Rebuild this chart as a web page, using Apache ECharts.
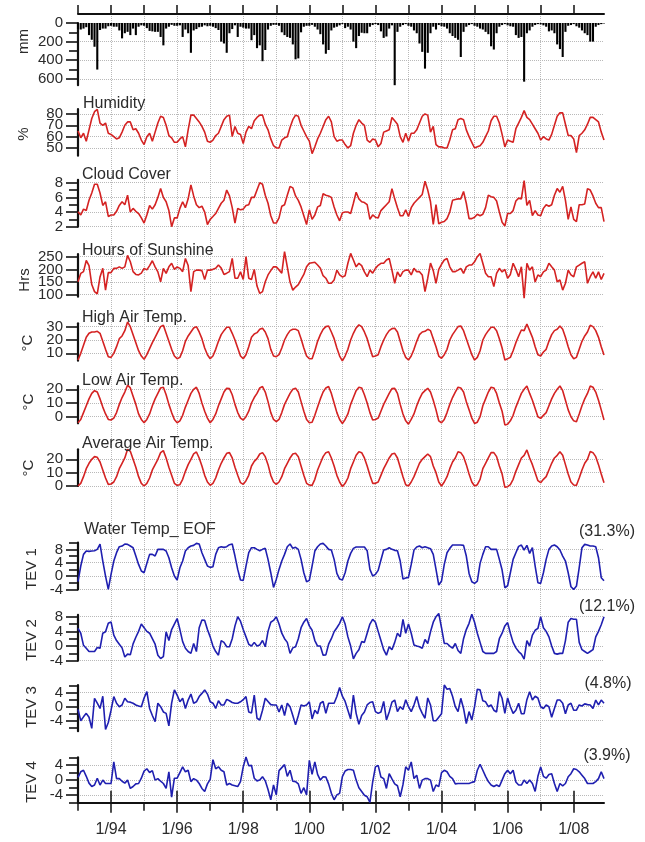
<!DOCTYPE html>
<html><head><meta charset="utf-8">
<script src="https://cdn.jsdelivr.net/npm/echarts@6/dist/echarts.min.js"></script>
<style>html,body{margin:0;padding:0;background:#fff}#c{width:645px;height:842px}</style>
</head><body><div id="c"></div>
<script>
// ---------- DATA (monthly, Jan 1993 .. Dec 2008) ----------
const startYear = 1993;
const tickLabels = ['1/94','1/96','1/98','1/00','1/02','1/04','1/06','1/08'];
const labelYears = [1994,1996,1998,2000,2002,2004,2006,2008];
const tevShare = ['(31.3%)','(12.1%)','(4.8%)','(3.9%)'];

const precip = [
65,70,60,45,130,180,255,500,75,60,60,35,
30,40,40,80,165,110,95,130,60,130,40,25,
30,55,85,90,95,95,150,240,60,40,20,30,
30,25,150,70,110,320,80,65,45,40,25,35,
30,40,55,75,200,220,320,110,65,25,150,40,
50,60,60,185,130,270,240,410,290,70,30,20,
20,30,100,130,150,160,230,390,380,100,40,30,
30,20,40,70,120,230,330,290,80,50,40,25,
12,55,40,70,200,270,140,105,110,110,40,22,
12,22,90,160,145,60,25,680,95,40,22,12,
30,40,80,110,220,310,490,320,110,40,70,22,
35,40,60,110,140,160,180,365,95,40,22,12,
30,40,60,70,95,120,250,285,110,40,22,12,
25,35,40,130,160,150,630,110,80,40,22,12,
15,25,40,90,80,110,230,280,365,95,30,22,
12,35,50,80,110,130,200,200,40,22,12,5];

const humidity = [
65,59,63,56,66,76,82,84,72,70,72,63,
62,60,58,59,64,70,73,73,66,67,63,57,
53,60,63,56,64,72,78,77,70,61,59,55,
55,58,60,51,66,79,79,76,73,69,64,56,
55,57,61,63,69,75,78,79,60,69,63,62,
54,64,69,67,74,77,79,79,71,66,58,52,
50,50,57,59,60,68,75,79,78,70,65,60,
56,45,51,58,63,69,75,78,73,60,56,57,
57,53,50,52,63,70,75,72,70,57,55,58,
57,51,54,64,65,66,77,74,71,60,55,63,
56,63,63,66,72,78,80,79,64,69,53,51,
51,50,50,57,66,67,75,76,75,66,60,55,
50,51,52,55,60,65,74,78,78,72,62,51,
57,56,55,67,72,77,83,77,75,71,67,63,
57,60,58,57,62,70,78,81,81,71,61,61,
58,46,61,63,66,71,77,77,75,73,64,57];

const cloud = [
4.05,3.6,4.4,4.2,5.6,6.6,7.8,7.8,6.6,4.9,5.4,3.4,
3.6,3.6,4.1,4.9,5.4,5.0,6.3,4.0,4.5,4.1,3.8,3.2,
2.5,3.6,4.9,4.4,5.0,6.0,7.2,6.0,5.4,4.2,2.0,3.2,
3.2,4.5,5.4,4.6,5.8,7.7,6.2,5.0,4.6,4.8,4.0,2.3,
3.0,3.4,3.8,4.5,5.2,5.6,7.0,6.2,4.6,2.5,4.5,4.3,
4.4,4.9,5.0,6.0,6.0,7.0,8.0,7.8,6.3,5.2,3.5,2.5,
2.5,3.2,4.8,5.0,6.3,7.5,7.3,6.2,5.6,4.7,3.5,2.3,
4.3,3.0,3.6,4.7,4.9,6.5,6.3,6.2,6.0,4.7,3.6,2.8,
3.9,4.0,4.0,3.8,5.2,6.7,5.8,5.4,5.3,5.0,3.0,3.6,
3.3,3.2,4.2,4.6,5.0,5.4,7.2,5.8,4.6,3.5,3.5,4.3,
3.4,4.6,5.2,5.6,6.0,6.4,8.2,7.0,5.4,2.3,5.0,2.4,
2.6,2.7,3.1,4.0,5.6,5.7,5.8,5.8,6.8,5.2,3.1,3.1,
3.3,3.7,3.5,3.7,4.6,6.3,6.1,6.0,5.5,4.0,2.6,2.1,
3.8,3.8,4.2,5.5,5.9,5.8,8.3,4.9,5.6,3.5,4.2,3.6,
3.5,4.5,5.0,4.8,5.0,6.3,7.2,6.7,7.5,5.6,3.0,4.7,
3.0,2.7,5.0,5.0,5.1,7.2,7.0,6.2,5.2,4.6,4.6,2.7];

const sunshine = [
151,184,191,235,215,140,112,103,170,204,118,187,
187,204,204,210,204,210,255,230,191,180,178,185,
204,198,215,234,210,190,151,204,184,210,224,200,
210,204,191,243,215,112,191,197,197,195,160,197,
197,200,204,217,205,180,185,191,243,165,165,190,
160,250,165,160,200,134,105,112,151,178,195,210,
210,198,185,270,210,150,118,130,140,160,180,210,
224,226,228,217,204,175,165,145,145,158,197,178,
170,175,224,263,237,210,224,215,190,171,197,185,
204,216,224,224,237,243,197,145,190,171,191,197,
197,178,204,191,191,178,112,165,225,195,145,200,
220,237,243,210,191,191,197,204,184,210,217,217,
230,250,263,224,185,171,171,132,184,204,190,200,
165,180,224,200,171,210,86,224,197,210,150,178,
171,190,197,224,210,197,151,158,118,145,197,178,
171,210,217,224,230,145,171,190,165,190,160,184];

const highTemp = [
5,10,16,22,25,26,26,26.5,25,19,13,7.5,
7,10,15,21,23,27,33.5,30,24,18,12,8,
5.5,9,13.5,18,22,26,30,31,25,19,13,8,
6,7,12,19,23,26,29,30,26,21,14,9,
6,8,13,19,24,27,29.5,29.5,25,20,14,8,
6,9,15,22,24.5,25.5,28,28.8,26,21,13,8,
7.5,9,14,20,24,27,28,28,27,21,14,8,
6,6,12,19,24,28,30,30.5,26,21,14,8,
4.3,8,13,20,25,29,31.3,30,26,21,14,7.5,
8,9,15,20,24,27,28.5,28.8,26,19,12,7,
5,8,13,19,24,26,26.5,28,27,21,15,8,
6.3,9,13,20,24,27,30,30.5,27,21,15,9,
5,7,12,20,24,27,29.5,29.5,27,21,14,5,
6,7,12,18,23,27.5,27,32,27,22,15,9,
8,11,13,19,24,27,28,30.5,28,22,15,9,
6,7,13,19,23,26,31,30,27,22,15,8.8];

const lowTemp = [
-4.4,-2,3,8,13,17,19,18,13,7,2,-2,
-2.4,-1,3,9,14,18,23,21,15,9,2,-2,
-4.4,-2,2,8,13,17,21,21.5,16,9,3,-2,
-4.4,-3,1,7,12,17,20,21.5,17,10,4,-1,
-4.4,-2,2,8,13,18,20.7,20.5,16,9,3,-1,
-2.4,0,4,10,14,17,21,22,18,11,3,-2,
-3.6,-2,3,9,13,17,20,20.7,18,11,4,-2,
-4.4,-4,1,7,13,18,21,22,17,10,3,-2,
-4.9,-2,2,9,14,19,21.5,21,16,10,3,-2.4,
-2,-1,4,9,13,17,20.5,20.7,17,9,2,-3,
-5.4,-2,2,8,13,17,19,20.7,18,12,5,-3,
-4.4,-2,3,9,14,18,21.5,21,18,11,5,-1,
-4.9,-4,0,8,13,18,21.5,21,17,10,4,-6,
-5.5,-3,1,7,12,17,20,22.4,17,12,6,0,
-1.2,1,3,8,13,17,20,22.4,19,12,5,0,
-3,-3.6,2,8,13,17,22.4,21.5,18,12,5,-2.4];

const avgTemp = [
0,2,7,13,17,20,22,21.5,18,12,6,1.2,
1.5,3,7,13,17,21,27.5,26,20,14,7,2,
0,2,6,12,16,20,25,26.5,21,14,8,2,
0.5,1,5,11,16,20,24,25.5,21,15,8,3,
0.5,2,6,12,17,21,24.5,25,21,14,8,2.5,
1.2,4,8,15,18.5,20.5,24,25,22,16,8,3,
1.2,3,7,13,17,21,24,24.5,22,15,8,2,
0.7,0.5,5,12,17,22,25,25.7,21,15,8,3,
-0.5,2,6,13,18,23,25.7,25,21,15,8,2,
2,3,8,13,17,21,24,24.5,21,14,7,1,
0,3,7,12,17,20,22,24,22,15,10,3,
0,3,7,13,18,21,25.7,25,22,16,9,3,
0,1,5,13,17,21,25,25,22,15,9,-1,
-0.5,1,5,11,16,21,23,27,21,16,10,4,
2.5,5,7,12,17,21,23,25.7,23,16,9,3,
0.7,0.5,6,12,17,20,25.8,25,22,16,9,2.5];

const tev1 = [
-1.7,3,6.5,7.5,7.4,7.5,7.6,8.0,9.6,4.5,0,-4,
0.5,4.5,7,8.8,9,9.6,9.5,9,8.5,6,3.5,1.5,
1,3.8,6.5,6.5,6,8,8,8,7.5,5.5,2.5,0,
-1.2,2.5,4.5,7.5,8.5,9,9.2,9.8,9.6,7,5,3,
2.6,2.8,6.5,8.5,8.8,8.6,8.8,9.4,9.6,6,2,-1.2,
-1.3,3,7,8.5,8.5,8,7.6,8,8.3,5,1,-3.4,
-1,2,4.5,6.5,8.8,9.6,8.3,8.6,8,5,1,-1.7,
-1.3,3,7.5,8.8,9.6,9.8,9,8,7.8,5,0.8,-0.9,
-1.2,1,4.5,6.8,8.3,8.7,8.7,8.7,8.7,7.6,2,0,
0.5,1.7,4.8,7.8,8,8.5,8,7.7,7.6,4.5,-0.9,-0.6,
-0.4,3.5,7.8,8.7,9,8.5,8.8,8.5,8.2,6.5,2,-2.7,
-1.5,3.5,7,8.3,9.3,9.3,9.3,9.3,9.2,6,0.8,-1.7,
-2.2,-1.5,3.8,6.5,8.8,8.8,8,8,8,5,1.8,-3.5,
-2.9,1,5,7,8.9,9.3,7.8,9.2,6.8,8.5,3,-2,
-2.2,1,5,8,9,9.3,8.8,7.8,6,4.5,1,-3.2,
-4,-3,2.5,8.5,9.5,9.3,9,9,8.8,5.5,-0.5,-1.4];

const tev2 = [
4.8,3.5,0.2,-0.6,-1.5,-1.5,-1.5,-0.4,-0.6,3.5,3.9,6.2,
6.6,3.0,1.5,0.5,-0.5,-3.0,-2.2,-2.4,0.6,2.4,4.0,6.0,
5.0,4.0,3.5,2.0,0.5,-2.5,-3.4,-2.9,3.9,1.5,4.5,6.0,
7.5,4.5,1.2,-0.6,-1.5,-2.0,0.7,-1.5,5.0,7.1,7.0,4.5,
2.5,0.0,-1.5,-2.5,1.5,1.0,-0.2,-0.2,2.0,5.5,8.0,6.8,
4.5,2.5,0.5,0,1.0,0,0.3,1.5,-0.2,4.0,6.5,7.0,
8.0,6.0,3.5,2.0,1.0,-2.0,-0.5,-0.2,2.0,5.0,6.5,7.5,
5.5,4.3,1.5,0,0,-2.5,-2.4,0.5,2.0,3.9,5.0,6.2,
8.0,6.0,2.5,0,-3.5,-2.0,-1.0,1.2,1.0,3.5,6.0,7.3,
6.5,4.0,1.5,-1.0,-2.5,-0.2,-1.0,1.0,3.5,2.5,7.3,3.5,
6.0,3.5,0.3,0,-0.2,-0.6,1.8,0.7,3.9,6.5,8.0,8.9,
5.0,0.7,0.7,0,-0.6,0.7,-1.2,-2.0,2.0,4.5,6.2,8.7,
6.5,3.5,1.0,-1.5,-2.0,-2.0,-2.0,-2.0,-1.5,2.0,3.5,5.5,
6.4,3.5,1.0,-0.5,-1.5,-2.2,-3.6,1.5,0,3.0,4.3,4.8,
8.0,5.0,4.0,2.5,0,-2.0,-2.2,-2.0,-2.0,1.5,6.5,7.5,
7.3,7.3,1.0,-1.0,-1.5,-2.0,-1.5,-1.0,2.5,4.0,5.8,8.0];

const tev3 = [
-0.8,-4.0,-2.9,-1.9,-3.0,-6.2,2.4,1.0,-0.5,3.0,-6.5,-4.5,
-1.0,2.9,1.0,0,0.5,2.4,1.4,1.3,1.0,0.5,0.2,0,
2.5,4.3,-0.5,-2.5,-4.3,1.0,0,-1.5,-1.9,-5.5,1.0,4.8,
3.3,1.4,2.4,-0.5,1.9,3.6,1.0,1.4,2.9,3.8,4.8,3.6,
1.4,1.0,-0.5,1.7,0.5,0.5,2.1,1.7,1.2,1.0,1.0,1.4,
2.0,2.9,-1.5,-1.8,3.3,-3.3,-3.8,-1.0,2.4,1.5,0.6,0.5,
0.5,-1.5,0.5,-2.5,1.0,0,-2.5,-5.2,-2.5,0.5,0.2,0.5,
1.4,-3.5,-1.0,-2.0,1.0,1.5,-1.9,1.0,1.0,1.0,2.9,5.5,
3.0,1.5,-1.0,-3.5,3.3,-1.9,-5.0,-2.5,-1.5,0.5,1.2,1.4,
-1.4,-1.9,-1.5,1.5,-3.8,-1.5,1.3,1.9,-1.4,0,-0.8,2.0,
0,-1.4,0.5,2.9,-0.2,-1.9,-3.3,2.5,0.5,-4.0,-4.0,-3.0,
-2.0,6.2,5.0,5.2,3.0,0,-1.4,2.4,-0.5,-4.8,-1.4,-3.8,
0,5.0,4.8,1.7,1.4,0,0.5,-1.0,-1.5,4.3,2.4,-1.9,
2.5,0,-1.9,-1.0,1.0,-2.0,-2.0,2.0,4.3,1.9,3.0,2.5,
0,-0.5,0.5,0,-3.0,-0.5,1.9,1.9,1.0,-2.0,0.5,1.0,
-1.0,-1.0,0.5,0.2,0.8,0.6,0.5,-0.5,1.9,0.5,1.9,1.0];

const tev4 = [
0.7,2.2,2.6,1.0,-0.8,-1.7,-1.3,0.5,-1.3,0,-0.9,-0.9,
-0.9,4.8,0.4,0.4,-0.3,-0.8,0,-2.2,-1.7,-1.0,-0.9,0.5,
2.4,3.0,2.0,2.5,0,0.4,-0.3,-0.9,-2.2,2.2,-4.5,0.5,
0.5,2.0,3.5,2.2,2.6,-0.4,0.4,0,-0.9,-2.2,-3.0,-1.0,
0.2,5.4,3.0,3.5,2.6,2.2,-1.3,-0.9,-1.3,-1.5,-1.7,-0.4,
3.5,6.1,3.8,3.9,0.5,-0.2,0,0.9,-0.2,-2.5,-5.2,-1.3,
-3.9,2.5,3.3,4.1,1.0,2.6,-0.3,-0.4,-1.0,-3.5,-2.0,-3.9,
5.2,1.5,4.8,1.5,0,0.9,0.8,-1.0,-3.5,-5.2,-3.9,-3.5,
0.9,2.4,2.8,2.8,2.6,0,-2.0,-3.0,-4.0,-4.4,-5.9,-0.5,
3.5,3.9,0.8,0.4,-2.2,1.7,0.3,-1.0,-1.5,-4.4,-1.2,3.5,
2.6,4.8,0.4,1.3,-2.2,0,0.4,0.4,0,-3.0,-1.3,-1.7,
2.0,2.6,2.2,1.0,0.4,-1.0,-0.9,-0.9,-0.9,-0.9,-0.9,-0.6,
-0.4,2.6,4.2,2.6,1.0,-0.4,-1.3,-1.7,-1.3,-1.7,0,1.7,
2.6,1.7,2.6,-0.5,-1.3,-1.3,0,-0.9,0,-0.9,-3.0,1.0,
3.5,1.0,0.5,1.5,1.7,-0.9,-3.0,-0.9,-1.5,-0.9,0.9,1.7,
3.0,2.8,2.2,1.3,0.4,-0.9,-0.9,-0.9,-0.4,0.4,2.2,0.4];

// ---------- LAYOUT ----------
const FONT = '"Liberation Sans", Arial, sans-serif';
const INK = '#111', TXT = '#2b2b2b', GRIDC = '#b9b9b9';
const RED = '#d42222', BLUE = '#1f1fb0';
const LEFT = 78, WIDTH = 526;
const XMAX = precip.length - 1;
const yearTicks = [];
for (let y = startYear; y <= 2008; y++) yearTicks.push((y - startYear) * 12);
const labelTicks = labelYears.map(y => (y - startYear) * 12);

const panels = [
  {data: precip,   kind: 'bar',  color: '#000', top: 23,    height: 62.2, min: 0,    max: 668,  inverse: true, labels: [0,200,400,600], minor: [100,300,500]},
  {data: humidity, kind: 'line', color: RED,   top: 109,   height: 46.7, min: 43.2, max: 84.4, labels: [50,60,70,80], minor: []},
  {data: cloud,    kind: 'line', color: RED,   top: 179.8, height: 46.9, min: 2,    max: 8.4,  labels: [2,4,6,8], minor: [3,5,7]},
  {data: sunshine, kind: 'line', color: RED,   top: 254,   height: 42.7, min: 92,   max: 260.7, labels: [100,150,200,250], minor: []},
  {data: highTemp, kind: 'line', color: RED,   top: 323.3, height: 37.4, min: 4.5,  max: 32.5, labels: [10,20,30], minor: []},
  {data: lowTemp,  kind: 'line', color: RED,   top: 386,   height: 37.3, min: -4.8, max: 22.4, labels: [0,10,20], minor: []},
  {data: avgTemp,  kind: 'line', color: RED,   top: 449.3, height: 36.7, min: 0,    max: 27.5, labels: [0,10,20], minor: []},
  {data: tev1,     kind: 'line', color: BLUE,  top: 542.7, height: 46.7, min: -4,   max: 10,   labels: [-4,0,4,8], minor: [-2,2,6,10]},
  {data: tev2,     kind: 'line', color: BLUE,  top: 614.9, height: 45.8, min: -4,   max: 8.5,  labels: [-4,0,4,8], minor: [-2,2,6]},
  {data: tev3,     kind: 'line', color: BLUE,  top: 685,   height: 46.2, min: -7,   max: 6.2,  labels: [-4,0,4], minor: [-6,-2,2,6]},
  {data: tev4,     kind: 'line', color: BLUE,  top: 757.4, height: 45.4, min: -6,   max: 6,    labels: [-4,0,4], minor: [-6,-2,2,6]}
];

const grid = [{left: LEFT, top: 14, width: WIDTH, height: 788.8}];
const xAxis = [
  {gridIndex: 0, type: 'value', position: 'top', min: 0, max: XMAX, interval: 12,
   axisLine: {show: true, onZero: false, lineStyle: {color: INK, width: 2}},
   axisTick: {show: true, customValues: yearTicks, length: 9, lineStyle: {color: INK, width: 1.5}},
   axisLabel: {show: false},
   splitLine: {show: true, showMinLine: false, showMaxLine: false, lineStyle: {color: GRIDC, type: 'dotted', width: 1}}},
  {gridIndex: 0, type: 'value', position: 'top', min: 0, max: XMAX,
   axisLine: {show: false},
   axisTick: {show: true, customValues: labelTicks, length: 12, lineStyle: {color: INK, width: 1.5}},
   axisLabel: {show: false}, splitLine: {show: false}},
  {gridIndex: 0, type: 'value', position: 'bottom', min: 0, max: XMAX,
   axisLine: {show: true, onZero: false, lineStyle: {color: INK, width: 2}},
   axisTick: {show: true, customValues: yearTicks, length: 8, lineStyle: {color: INK, width: 1.5}},
   axisLabel: {show: true, customValues: labelTicks, margin: 19, fontSize: 16, color: TXT, fontFamily: FONT,
     showMinLabel: true, showMaxLabel: true,
     formatter: v => tickLabels[labelTicks.indexOf(v)] || ''},
   splitLine: {show: false}},
  {gridIndex: 0, type: 'value', position: 'bottom', min: 0, max: XMAX,
   axisLine: {show: false},
   axisTick: {show: true, customValues: labelTicks, length: 10, lineStyle: {color: INK, width: 1.5}},
   axisLabel: {show: false}, splitLine: {show: false}}
];
const yAxis = [{gridIndex: 0, type: 'value', show: false, min: 0, max: 1}];
const series = [];

panels.forEach((p, k) => {
  const g = k + 1;
  grid.push({left: LEFT, top: p.top, width: WIDTH, height: p.height});
  xAxis.push({gridIndex: g, type: 'value', min: 0, max: XMAX, show: false});
  const base = {gridIndex: g, type: 'value', position: 'left', min: p.min, max: p.max, inverse: !!p.inverse};
  const mainIdx = yAxis.length;
  // axis line, major ticks, horizontal dotted grid lines
  yAxis.push(Object.assign({}, base, {
    axisLine: {show: true, onZero: false, lineStyle: {color: INK, width: 2.2}},
    axisTick: {show: true, customValues: p.labels, length: 12, lineStyle: {color: INK, width: 1.6}},
    axisLabel: {show: false},
    splitLine: {show: true, lineStyle: {color: GRIDC, type: 'dotted', width: 1}}
  }));
  // minor ticks
  if (p.minor.length) {
    yAxis.push(Object.assign({}, base, {
      axisLine: {show: false},
      axisTick: {show: true, customValues: p.minor, length: 9, lineStyle: {color: INK, width: 1.6}},
      axisLabel: {show: false}, splitLine: {show: false}
    }));
  }
  // one label per axis so that none is dropped by overlap handling
  p.labels.forEach(v => {
    yAxis.push(Object.assign({}, base, {
      axisLine: {show: false}, axisTick: {show: false}, splitLine: {show: false},
      axisLabel: {show: true, customValues: [v], margin: 15, fontSize: 15, color: TXT, fontFamily: FONT,
        showMinLabel: true, showMaxLabel: true}
    }));
  });
  const pts = p.data.map((v, i) => [i, v]);
  if (p.kind === 'bar') {
    series.push({type: 'bar', xAxisIndex: 3 + g, yAxisIndex: mainIdx, data: pts,
      barWidth: 2.1, itemStyle: {color: p.color}, silent: true});
  } else {
    series.push({type: 'line', xAxisIndex: 3 + g, yAxisIndex: mainIdx, data: pts,
      showSymbol: false, symbol: 'none', clip: false,
      lineStyle: {color: p.color, width: 1.6}, silent: true});
  }
});

// ---------- TEXTS ----------
const titles = [
  ['Humidity', 83, 104], ['Cloud Cover', 82, 175], ['Hours of Sunshine', 82, 251],
  ['High Air Temp.', 82, 318], ['Low Air Temp.', 82, 381], ['Average Air Temp.', 82, 444],
  ['Water Temp_ EOF', 84, 530]
];
const shares = [[607, 532], [607, 607], [608, 684], [607, 756]];
const yNames = [
  ['mm', 24, 41.5], ['%', 24, 134], ['Hrs', 25, 280], ['°C', 28, 343], ['°C', 29, 402], ['°C', 29, 468],
  ['TEV 1', 32, 569], ['TEV 2', 32, 640], ['TEV 3', 32, 707], ['TEV 4', 32, 782]
];
const graphic = [];
titles.forEach(t => graphic.push({type: 'text', x: t[1], y: t[2], z: 100,
  style: {text: t[0], font: '16px ' + FONT, fill: TXT, textAlign: 'left', textVerticalAlign: 'middle'}}));
shares.forEach((s, i) => graphic.push({type: 'text', x: s[0], y: s[1], z: 100,
  style: {text: tevShare[i], font: '16px ' + FONT, fill: TXT, textAlign: 'center', textVerticalAlign: 'middle'}}));
yNames.forEach(t => graphic.push({type: 'text', x: t[1], y: t[2], rotation: Math.PI / 2, z: 100,
  style: {text: t[0], font: '15px ' + FONT, fill: TXT, textAlign: 'center', textVerticalAlign: 'middle'}}));

const chart = echarts.init(document.getElementById('c'), null, {renderer: 'canvas'});
chart.setOption({animation: false, backgroundColor: '#fff', grid, xAxis, yAxis, series, graphic});
</script></body></html>
